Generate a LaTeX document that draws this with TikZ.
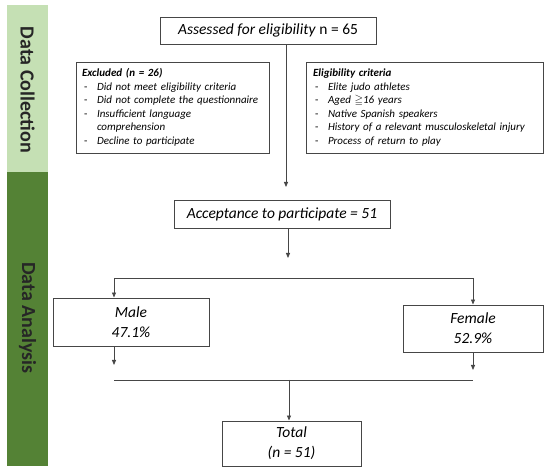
\documentclass[tikz,border=0pt]{standalone}
\usepackage{amsmath, amssymb}
\usepackage{fontspec}
\setmainfont{Carlito}
\usepackage{xcolor}
\usetikzlibrary{arrows.meta}
\usetikzlibrary{positioning}

\definecolor{lightgreen}{RGB}{197,224,180}
\definecolor{darkgreen}{RGB}{84,130,53}
\definecolor{linegray}{RGB}{70,70,70}

\newcommand{\dashitem}[1]{\makebox[15pt][l]{\hspace{2pt}-}\textit{#1}}

\tikzset{
  box/.style={draw=linegray, line width=0.9pt, fill=white, inner sep=0pt, align=center},
  listbox/.style={draw=linegray, line width=0.9pt, fill=white, inner xsep=6pt, inner ysep=0pt,
    align=left, font=\fontsize{11}{13.5}\selectfont},
  flow/.style={-{Triangle[length=5pt,width=4pt]}, draw=linegray, line width=0.8pt},
  plain/.style={draw=linegray, line width=0.8pt},
  stagelabel/.style={rotate=-90, font=\fontsize{20}{22}\selectfont\bfseries, text=black!85}
}

\begin{document}
\begin{tikzpicture}[x=1pt, y=-1pt]
      \useasboundingbox (0,0) rectangle (550,473);

      % side bars
      \fill[lightgreen] (7,5) rectangle (48,172);
      \fill[darkgreen] (7,172) rectangle (48,466);
      \node[stagelabel] (collect) at (27.5,90) {Data Collection};
      \node[stagelabel] (analyse) at (27.5,318) {Data Analysis};

      % boxes
      \node[box, minimum width=216pt, minimum height=27pt, font=\fontsize{15.5}{17}\selectfont]
        (assessed) at (268,30.5) {\textit{Assessed for eligibility} n = 65};
      \node[listbox, text width=181pt, minimum height=91pt] (excluded) at (172.5,107.5)
        {\textbf{\textit{Excluded (n = 26)}}\\
         \dashitem{Did not meet eligibility criteria}\\
         \dashitem{Did not complete the questionnaire}\\
         \dashitem{Insufficient language}\\
         \makebox[15pt]{}\textit{comprehension}\\
         \dashitem{Decline to participate}};
      \node[listbox, inner xsep=7pt, text width=223pt, minimum height=91pt] (criteria) at (424.5,107.5)
        {\textbf{\textit{Eligibility criteria}}\\
         \dashitem{Elite judo athletes}\\
         \dashitem{Aged $\geqq$16 years}\\
         \dashitem{Native Spanish speakers}\\
         \dashitem{History of a relevant musculoskeletal injury}\\
         \dashitem{Process of return to play}};
      \node[box, minimum width=216pt, minimum height=28pt, font=\fontsize{15.5}{17}\selectfont\itshape]
        (accept) at (282,214) {Acceptance to participate = 51};
      \node[box, minimum width=156pt, minimum height=48pt, font=\fontsize{15.5}{20}\selectfont\itshape]
        (male) at (131,322) {Male\\47.1\%};
      \node[box, minimum width=140pt, minimum height=47pt, font=\fontsize{15.5}{20}\selectfont\itshape]
        (female) at (473,328.5) {Female\\52.9\%};
      \node[box, minimum width=139pt, minimum height=45pt, font=\fontsize{15.5}{20}\selectfont\itshape]
        (total) at (291.5,443.5) {Total\\(n = 51)};

      % connector points
      \coordinate (t1) at (286,187);
      \coordinate (t2) at (288,258);
      \coordinate (splitL) at (114,278);
      \coordinate (splitR) at (473,278);
      \coordinate (t3) at (114,365);
      \coordinate (t4) at (473,370);
      \coordinate (joinL) at (114,380);
      \coordinate (joinR) at (473,380);
      \coordinate (joinM) at (289,380);

      \draw[flow] (assessed.south -| t1) -- (t1);
      \draw[flow] (accept.south -| t2) -- (t2);
      \draw[plain] (splitL) -- (splitR);
      \draw[flow] (splitL) -- (male.north -| splitL);
      \draw[flow] (splitR) -- (female.north -| splitR);
      \draw[flow] (male.south -| t3) -- (t3);
      \draw[flow] (female.south -| t4) -- (t4);
      \draw[plain] (joinL) -- (joinR);
      \draw[flow] (joinM) -- (total.north -| joinM);
    \end{tikzpicture}
\end{document}
